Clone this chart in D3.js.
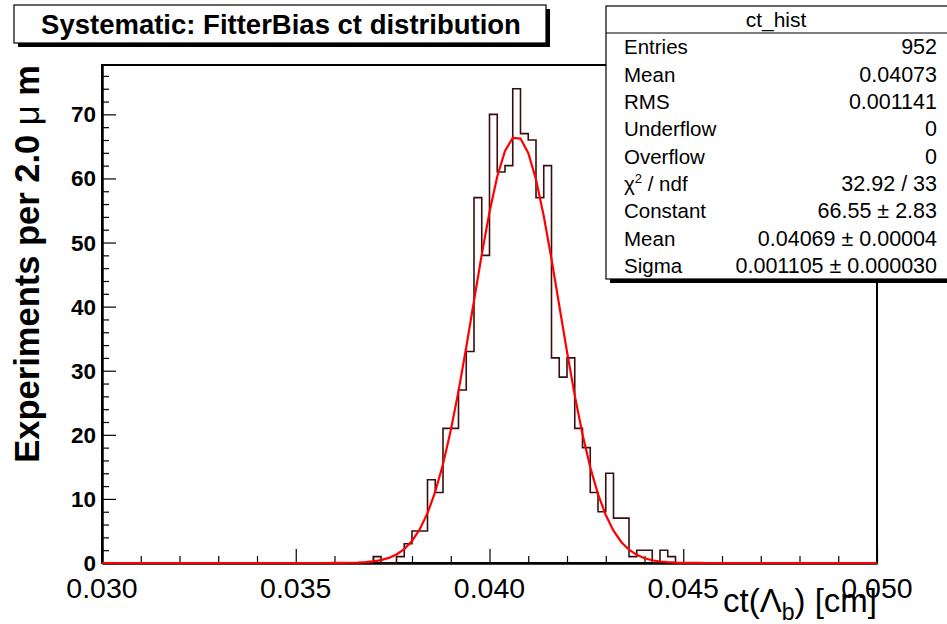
<!DOCTYPE html>
<html>
<head>
<meta charset="utf-8">
<script src="https://cdn.jsdelivr.net/npm/d3@7"></script>
<style>
  html, body { margin: 0; padding: 0; background: #fff; }
  svg { display: block; font-family: 'Liberation Sans', Arial, Helvetica, sans-serif; }
</style>
</head>
<body>
<svg id="chart" width="947" height="624"></svg>
<script>
// histogram: 100 bins of 2 um between 0.030 and 0.050 cm
var xRange = [0.030, 0.050];
var binWidth = 0.0002;
var firstBin = 35; // index of the first bin in binCounts
var binCounts = [1, 0, 0, 1, 3, 5, 5, 13, 11, 21, 21, 27, 33, 57, 48, 70, 61, 62, 74, 67,
  66, 57, 62, 32, 29, 32, 21, 18, 11, 8, 14, 7, 7, 1, 2, 2, 0, 2, 1];

// gaussian fit result
var fitConstant = 66.55;
var fitMean = 0.04069;
var fitSigma = 0.001105;
var fitPoints = 100;

var xTickLabels = ['0.030', '0.035', '0.040', '0.045', '0.050'];
var yTickValues = [0, 10, 20, 30, 40, 50, 60, 70];

var statLabels = ['Entries', 'Mean', 'RMS', 'Underflow', 'Overflow', 'χ²', 'Constant', 'Mean', 'Sigma'];
var statValues = ['952', '0.04073', '0.001141', '0', '0', '32.92 / 33', '66.55 ± 2.83',
  '0.04069 ± 0.00004', '0.001105 ± 0.000030'];

var frame = { left: 102, right: 877, top: 65, bottom: 563 };
var yMax = 77.7;

var svg = d3.select('#chart');

var x = d3.scaleLinear().domain(xRange).range([frame.left, frame.right]);
var y = d3.scaleLinear().domain([0, yMax]).range([frame.bottom, frame.top]);

// full bin list, empty bins at zero
var nBins = Math.round((xRange[1] - xRange[0]) / binWidth);
var bins = d3.range(nBins).map(function(i) {
  var c = binCounts[i - firstBin];
  return { x0: xRange[0] + i * binWidth, count: c === undefined ? 0 : c };
});

// frame
svg.append('rect')
  .attr('x', frame.left).attr('y', frame.top)
  .attr('width', frame.right - frame.left).attr('height', frame.bottom - frame.top)
  .attr('fill', 'none').attr('stroke', '#000').attr('stroke-width', 2);

// axes, ticks pointing into the frame
var xAxis = d3.axisTop(x)
  .tickValues(d3.range(0, 21).map(function(i) { return xRange[0] + i * 0.001; }))
  .tickFormat('')
  .tickSizeOuter(0);
var xg = svg.append('g').attr('transform', 'translate(0,' + frame.bottom + ')').call(xAxis);
xg.select('.domain').attr('stroke-width', 2.5);
xg.selectAll('.tick line')
  .attr('y2', function(d, i) { return i % 5 === 0 ? -14 : -7; })
  .attr('stroke-width', 1.2);

var yAxis = d3.axisRight(y)
  .tickValues(d3.range(0, 78, 2))
  .tickFormat('')
  .tickSizeOuter(0);
var yg = svg.append('g').attr('transform', 'translate(' + frame.left + ',0)').call(yAxis);
yg.select('.domain').attr('stroke-width', 2.5);
yg.selectAll('.tick line')
  .attr('x2', function(d) { return d % 10 === 0 ? 14 : 7; })
  .attr('stroke-width', 1.2);

svg.append('g').selectAll('text')
  .data(xTickLabels)
  .join('text')
  .attr('x', function(d) { return x(+d); })
  .attr('y', 598)
  .attr('text-anchor', 'middle')
  .attr('font-size', 28.5)
  .text(function(d) { return d; });

svg.append('g').selectAll('text')
  .data(yTickValues)
  .join('text')
  .attr('x', 96)
  .attr('y', function(d) { return y(d) + 8; })
  .attr('text-anchor', 'end')
  .attr('font-size', 22.5)
  .attr('font-weight', 'bold')
  .text(function(d) { return d; });

// histogram outline
var steps = [[x(xRange[0]), y(0)]];
bins.forEach(function(b) {
  steps.push([x(b.x0), y(b.count)]);
  steps.push([x(b.x0 + binWidth), y(b.count)]);
});
steps.push([x(xRange[1]), y(0)]);
svg.append('path')
  .attr('d', d3.line()(steps))
  .attr('fill', 'none')
  .attr('stroke', '#3a0e0e')
  .attr('stroke-width', 1.6);

// fitted gaussian, sampled like a TF1
var fitLine = d3.range(fitPoints + 1).map(function(i) {
  var v = xRange[0] + i * (xRange[1] - xRange[0]) / fitPoints;
  var z = (v - fitMean) / fitSigma;
  return [x(v), y(fitConstant * Math.exp(-0.5 * z * z))];
});
svg.append('path')
  .attr('d', d3.line()(fitLine))
  .attr('fill', 'none')
  .attr('stroke', '#f00')
  .attr('stroke-width', 2.2);

// axis titles
var xt = svg.append('text')
  .attr('x', frame.right).attr('y', 612)
  .attr('text-anchor', 'end')
  .attr('font-size', 33);
xt.append('tspan').text('ct(Λ');
xt.append('tspan').attr('font-size', 23).attr('dy', 8).text('b');
xt.append('tspan').attr('dy', -8).text(') [cm]');

var yt = svg.append('text')
  .attr('transform', 'translate(39,' + frame.top + ') rotate(-90)')
  .attr('text-anchor', 'end')
  .attr('font-size', 34.5)
  .attr('font-weight', 'bold');
yt.append('tspan').text('Experiments per 2.0 ');
yt.append('tspan').attr('font-weight', 'normal').text('μ');
yt.append('tspan').text(' m');

// title box with shadow
var tb = { x: 14, y: 5, w: 532, h: 38 };
svg.append('rect')
  .attr('x', tb.x + 4).attr('y', tb.y + 4).attr('width', tb.w).attr('height', tb.h)
  .attr('fill', '#000');
svg.append('rect')
  .attr('x', tb.x).attr('y', tb.y).attr('width', tb.w).attr('height', tb.h)
  .attr('fill', '#fff').attr('stroke', '#000').attr('stroke-width', 1.2);
svg.append('text')
  .attr('x', 281).attr('y', tb.y + 29)
  .attr('text-anchor', 'middle')
  .attr('font-size', 27.5)
  .attr('font-weight', 'bold')
  .text('Systematic: FitterBias ct distribution');

// stats box
var sb = { x: 606, y: 6, w: 345, h: 273, head: 27 };
svg.append('rect')
  .attr('x', sb.x + 4).attr('y', sb.y + 4).attr('width', sb.w).attr('height', sb.h)
  .attr('fill', '#000');
svg.append('rect')
  .attr('x', sb.x).attr('y', sb.y).attr('width', sb.w).attr('height', sb.h)
  .attr('fill', '#fff').attr('stroke', '#000').attr('stroke-width', 1.2);
svg.append('line')
  .attr('x1', sb.x).attr('x2', sb.x + sb.w)
  .attr('y1', sb.y + sb.head).attr('y2', sb.y + sb.head)
  .attr('stroke', '#000').attr('stroke-width', 1.2);
svg.append('text')
  .attr('x', 776).attr('y', sb.y + 21)
  .attr('text-anchor', 'middle')
  .attr('font-size', 21)
  .text('ct_hist');

var rowH = (sb.h - sb.head) / statLabels.length;
var rows = svg.append('g').selectAll('g')
  .data(statLabels)
  .join('g')
  .attr('transform', function(d, i) {
    return 'translate(0,' + (sb.y + sb.head + rowH * (i + 0.5) + 7.5) + ')';
  });
rows.append('text')
  .attr('x', 624)
  .attr('font-size', 20.5)
  .each(function(d) {
    var t = d3.select(this);
    if (d === 'χ²') {
      t.append('tspan').text('χ');
      t.append('tspan').attr('font-size', 13).attr('dy', -8).text('2');
      t.append('tspan').attr('dy', 8).text(' / ndf');
    } else {
      t.text(d);
    }
  });
rows.append('text')
  .attr('x', 937)
  .attr('text-anchor', 'end')
  .attr('font-size', 21.5)
  .text(function(d, i) { return statValues[i]; });
</script>
</body>
</html>
